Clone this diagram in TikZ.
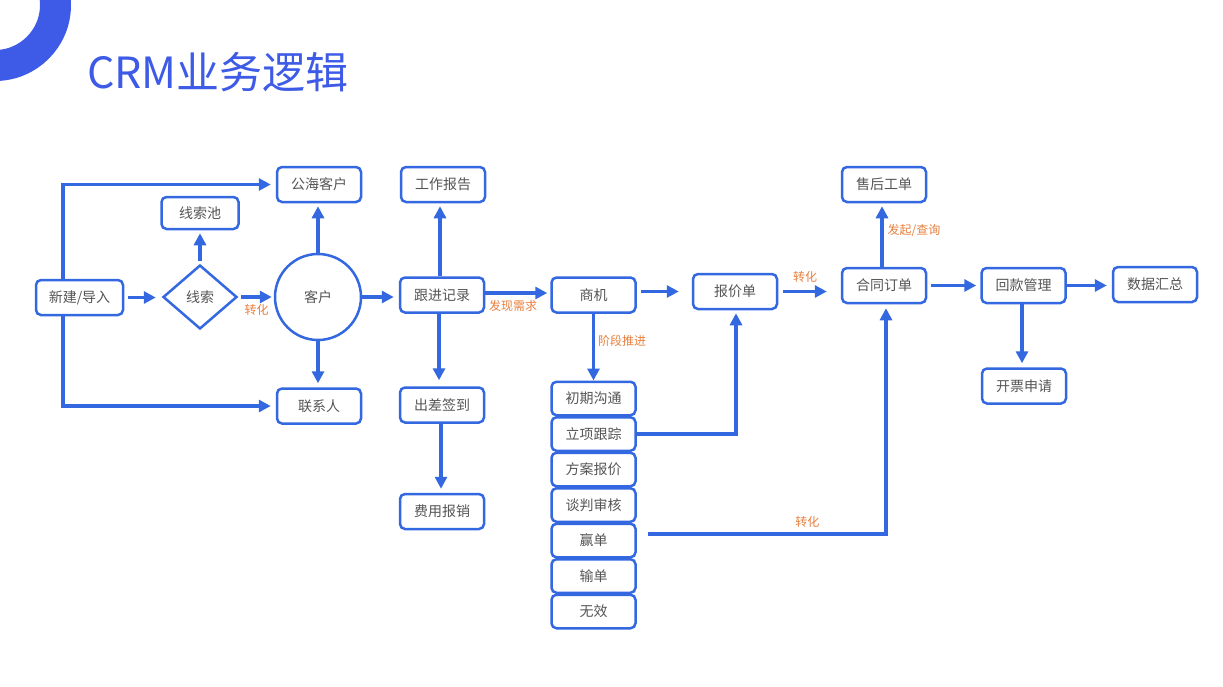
\documentclass[tikz,border=0pt]{standalone}
\usepackage{fontspec}
\setmainfont{Noto Sans CJK SC}
\usetikzlibrary{arrows.meta,shapes.geometric,calc}
\definecolor{bl}{HTML}{3468E0}
\definecolor{tt}{HTML}{3D5BE6}
\definecolor{tx}{HTML}{555555}
\definecolor{org}{HTML}{E8803F}
\begin{document}
\begin{tikzpicture}[x=1pt,y=-1pt,
 box/.style={draw=bl,line width=2.5pt,rounded corners=5pt,minimum width=84pt,minimum height=35pt,text=tx,font=\fontsize{14}{15}\selectfont,inner sep=0pt},
 stage/.style={box,minimum height=33.5pt},
 arr/.style={draw=bl,line width=3.3pt,-{Triangle[length=12pt,width=12pt]}},
 lbl/.style={text=org,font=\fontsize{12}{13}\selectfont,inner sep=1pt}]
\useasboundingbox (0,0) rectangle (1223,686);
\fill[white] (0,0) rectangle (1223,686);
\begin{scope}
\clip (0,0) rectangle (1223,686);
\draw[tt,line width=31pt] (-5,5) circle[radius=60.5];
\end{scope}
\node[anchor=base west,text=tt,font=\fontsize{43}{45}\selectfont,inner sep=0pt] (title) at (87,88) {CRM业务逻辑};

% nodes
\node[box,minimum width=87pt] (xj) at (79.5,297.5) {新建/导入};
\node[draw=bl,line width=2.5pt,diamond,minimum width=74pt,minimum height=64pt,inner sep=0pt,text=tx,font=\fontsize{14}{15}\selectfont] (xs) at (200,297) {线索};
\node[box,minimum width=77pt,minimum height=32pt] (xsc) at (200,213) {线索池};
\node[box] (gh) at (319,184.5) {公海客户};
\node[draw=bl,line width=2.5pt,circle,minimum size=86pt,inner sep=0pt,text=tx,font=\fontsize{14}{15}\selectfont] (kh) at (318,297) {客户};
\node[box] (lxr) at (319,406) {联系人};
\node[box] (gzbg) at (443,184.5) {工作报告};
\node[box] (gj) at (442,295) {跟进记录};
\node[box] (cc) at (442,405) {出差签到};
\node[box] (fy) at (442,511.5) {费用报销};
\node[box] (sj) at (593.5,295) {商机};
\node[box] (bj) at (735,291.5) {报价单};
\node[box] (ht) at (884,285.5) {合同订单};
\node[box] (sh) at (884,184.5) {售后工单};
\node[box] (hk) at (1023.5,285.5) {回款管理};
\node[box] (sjhz) at (1155,284.5) {数据汇总};
\node[box] (kp) at (1024,386) {开票申请};
\node[stage] (s1) at (593.5,398.5) {初期沟通};
\node[stage] (s2) at (593.5,434) {立项跟踪};
\node[stage] (s3) at (593.5,469.5) {方案报价};
\node[stage] (s4) at (593.5,505) {谈判审核};
\node[stage] (s5) at (593.5,540.5) {赢单};
\node[stage] (s6) at (593.5,576) {输单};
\node[stage] (s7) at (593.5,611.5) {无效};

% connectors
\draw[arr] ([xshift=-16.5pt]xj.north) |- ([xshift=-5pt]gh.west);
\draw[arr] ([xshift=-16.5pt]xj.south) |- ([xshift=-5pt]lxr.west);
\draw[arr] ([xshift=4pt]xj.east) -- ($(xs.west |- xj.east)+(-6,0)$);
\draw[arr] ([yshift=3pt]xs.north) -- ([yshift=-3pt]xsc.south);
\draw[arr] ([xshift=3pt]xs.east) -- ([xshift=-2pt]kh.west) node[lbl,midway,below=5pt] {转化};
\draw[arr] (kh.north) -- ([xshift=-1pt,yshift=-3pt]gh.south);
\draw[arr] (kh.south) -- ([xshift=-1pt,yshift=4pt]lxr.north);
\draw[arr] (kh.east) -- ($(gj.west |- kh.east)+(-5,0)$);
\draw[arr] ([xshift=-2pt]gj.north) -- ([xshift=-3pt,yshift=-3pt]gzbg.south);
\draw[arr] ([yshift=2pt]gj.east) -- ([xshift=-3pt,yshift=2pt]sj.west) node[lbl,pos=0.45,below=5pt] {发现需求};
\draw[arr] ([xshift=-3pt]gj.south) -- ([xshift=-3pt,yshift=6pt]cc.north);
\draw[arr] ([xshift=-1pt]cc.south) -- ([xshift=-1pt,yshift=4pt]fy.north);
\draw[arr] (sj.south) -- (s1.north) node[lbl,pos=0.4,right=2pt] {阶段推进};
\draw[arr] ($(sj.east |- bj.west)+(4,0)$) -- ([xshift=-13pt]bj.west);
\draw[arr] (s2.east) -| ([xshift=1pt,yshift=-3pt]bj.south);
\draw[arr] ([xshift=11pt,yshift=6.5pt]s5.east) -| ([xshift=2pt,yshift=-4pt]ht.south) node[lbl,pos=0.335,above=4pt] {转化};
\draw[arr] ([xshift=5pt]bj.east) -- ($(ht.west |- bj.east)+(-14,0)$) node[lbl,midway,above=6pt] {转化};
\draw[arr] ([xshift=-2pt]ht.north) -- ([xshift=-2pt,yshift=-3pt]sh.south) node[lbl,pos=0.6,right=3pt] {发起/查询};
\draw[arr] ([xshift=4pt]ht.east) -- ([xshift=-4pt]hk.west);
\draw[arr] (hk.east) -- ($(sjhz.west |- hk.east)+(-5,0)$);
\draw[arr] ([xshift=-1.5pt]hk.south) -- ([xshift=-2pt,yshift=4pt]kp.north);
\end{tikzpicture}
\end{document}
